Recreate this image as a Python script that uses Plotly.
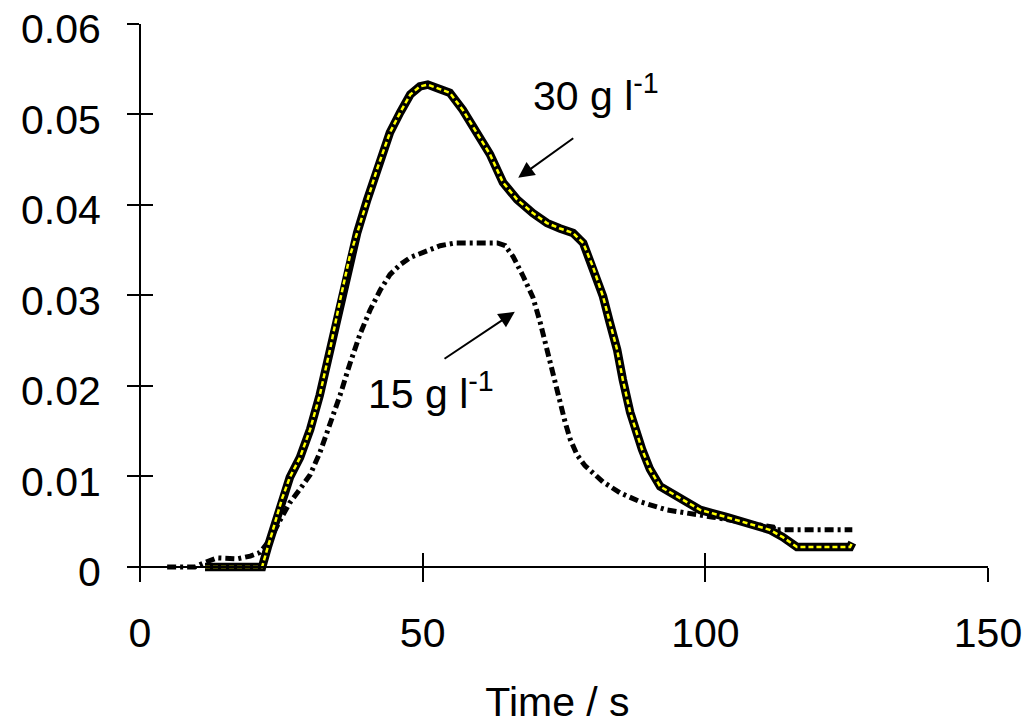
import plotly.graph_objects as go

# 30 g/l series
t30 = [11.5, 21.6, 22.6, 23.0, 25.1, 26.5, 28.3, 30.1, 31.8, 33.6, 35.4, 37.1, 38.4, 40.2,
       41.9, 44.2, 46.0, 47.8, 49.5, 50.9, 53.1, 54.8, 57.1, 59.6, 61.9, 64.2, 66.7, 69.5,
       72.0, 74.3, 76.6, 78.4, 80.1, 81.9, 83.1, 84.4, 85.4, 86.7, 88.8, 90.2, 92.0, 95.0,
       99.1, 103.8, 107.9, 111.4, 113.7, 116.2, 125.6, 126.0]
c30 = [0.0, 0.0, 0.0022, 0.0030, 0.0075, 0.0099, 0.0121, 0.0152, 0.0190, 0.0240, 0.0295,
       0.0343, 0.0369, 0.0406, 0.0439, 0.0480, 0.0502, 0.0522, 0.0531, 0.0533, 0.0528,
       0.0524, 0.0505, 0.0480, 0.0456, 0.0425, 0.0406, 0.0391, 0.0380, 0.0374, 0.0369,
       0.0358, 0.0332, 0.0299, 0.0270, 0.0240, 0.0207, 0.0171, 0.0130, 0.0108, 0.0089,
       0.0078, 0.0063, 0.0055, 0.0047, 0.0041, 0.0033, 0.0022, 0.0022, 0.0027]

# 15 g/l series
t15 = [4.8, 9.7, 11.5, 13.6, 17.2, 19.5, 21.2, 23.0, 24.8, 26.5, 28.3, 30.1, 31.8, 33.6,
       35.4, 37.1, 38.9, 40.7, 42.5, 44.2, 46.0, 47.8, 50.4, 53.1, 55.7, 63.2, 64.6, 66.0,
       67.8, 69.5, 70.8, 72.0, 72.9, 73.9, 75.2, 76.1, 77.3, 78.7, 80.5, 81.9, 84.9, 88.5,
       93.2, 96.8, 101.4, 106.1, 112.0, 112.3, 126.0]
c15 = [0.0, 0.0, 0.0005, 0.0010, 0.0009, 0.0012, 0.0016, 0.0030, 0.0052, 0.0071, 0.0086,
       0.0102, 0.0126, 0.0157, 0.0190, 0.0224, 0.0257, 0.0284, 0.0306, 0.0323, 0.0334,
       0.0342, 0.0349, 0.0355, 0.0358, 0.0358, 0.0355, 0.0343, 0.0321, 0.0298, 0.0270,
       0.0240, 0.0215, 0.0188, 0.0160, 0.0141, 0.0124, 0.0112, 0.0101, 0.0094, 0.0082,
       0.0072, 0.0063, 0.0060, 0.0055, 0.0050, 0.0044, 0.0041, 0.0041]

x_ticks = [0, 50, 100, 150]
y_ticks = [0, 0.01, 0.02, 0.03, 0.04, 0.05, 0.06]
y_tick_text = ["0", "0.01", "0.02", "0.03", "0.04", "0.05", "0.06"]
x_range = [-2.3, 150]
y_range = [-0.00144, 0.06]

FONT = "Arial, Liberation Sans, sans-serif"
FS = 41

fig = go.Figure()
fig.add_trace(go.Scatter(x=t15, y=c15, mode="lines",
                         line=dict(color="black", width=5, dash="9px,4px,3px,4px"),
                         showlegend=False, hoverinfo="skip"))
fig.add_trace(go.Scatter(x=t30, y=c30, mode="lines",
                         line=dict(color="black", width=8.5),
                         showlegend=False, hoverinfo="skip"))
fig.add_trace(go.Scatter(x=t30, y=c30, mode="lines",
                         line=dict(color="#FFFF00", width=2.5, dash="5px,3px"),
                         showlegend=False, hoverinfo="skip"))
# empty trace to register the overlay axes (inner half of crossing ticks)
fig.add_trace(go.Scatter(x=[], y=[], xaxis="x2", yaxis="y2", showlegend=False))

common_x = dict(range=x_range, tickvals=x_ticks, showgrid=False, zeroline=False,
                anchor="free", position=13 / 556, tickwidth=2, ticklen=14,
                tickcolor="black", automargin=False, ticklabeloverflow="allow")
common_y = dict(range=y_range, tickvals=y_ticks, showgrid=False, zeroline=False,
                anchor="free", position=13 / 861, tickwidth=2, ticklen=12,
                tickcolor="black", automargin=False, ticklabeloverflow="allow")

fig.update_layout(
    width=1036, height=721,
    margin=dict(l=119, r=56, t=16, b=149, autoexpand=False),
    paper_bgcolor="white", plot_bgcolor="white",
    font=dict(family=FONT, size=FS, color="black"),
    xaxis=dict(**common_x, ticks="outside", showline=True, linecolor="black",
               linewidth=2, ticktext=[str(v) for v in x_ticks],
               ticklabelstandoff=16,
               title=dict(text="Time / s", font=dict(size=FS), standoff=31)),
    xaxis2=dict(**common_x, ticks="inside", overlaying="x", showline=False,
                showticklabels=False),
    yaxis=dict(**common_y, ticks="outside", showline=True, linecolor="black",
               linewidth=2, ticktext=y_tick_text, ticklabelstandoff=18,
               ticklabelshift=5),
    yaxis2=dict(**common_y, ticks="inside", overlaying="y", showline=False,
                showticklabels=False),
)

ann_font = dict(family=FONT, size=FS, color="black")
fig.add_annotation(x=69.2, y=0.0524, xref="x", yref="y", text="30 g l<sup>-1</sup>",
                   showarrow=False, xanchor="left", yanchor="middle", font=ann_font)
fig.add_annotation(x=40.0, y=0.0195, xref="x", yref="y", text="15 g l<sup>-1</sup>",
                   showarrow=False, xanchor="left", yanchor="middle", font=ann_font)
fig.add_annotation(x=66.9, y=0.0430, ax=76.9, ay=0.0475, xref="x", yref="y",
                   axref="x", ayref="y", text="", showarrow=True, arrowhead=2,
                   arrowsize=1.6, arrowwidth=2, arrowcolor="black", standoff=0)
fig.add_annotation(x=66.3, y=0.0282, ax=53.6, ay=0.0229, xref="x", yref="y",
                   axref="x", ayref="y", text="", showarrow=True, arrowhead=2,
                   arrowsize=1.6, arrowwidth=2, arrowcolor="black", standoff=0)

fig.write_html("out.html")
